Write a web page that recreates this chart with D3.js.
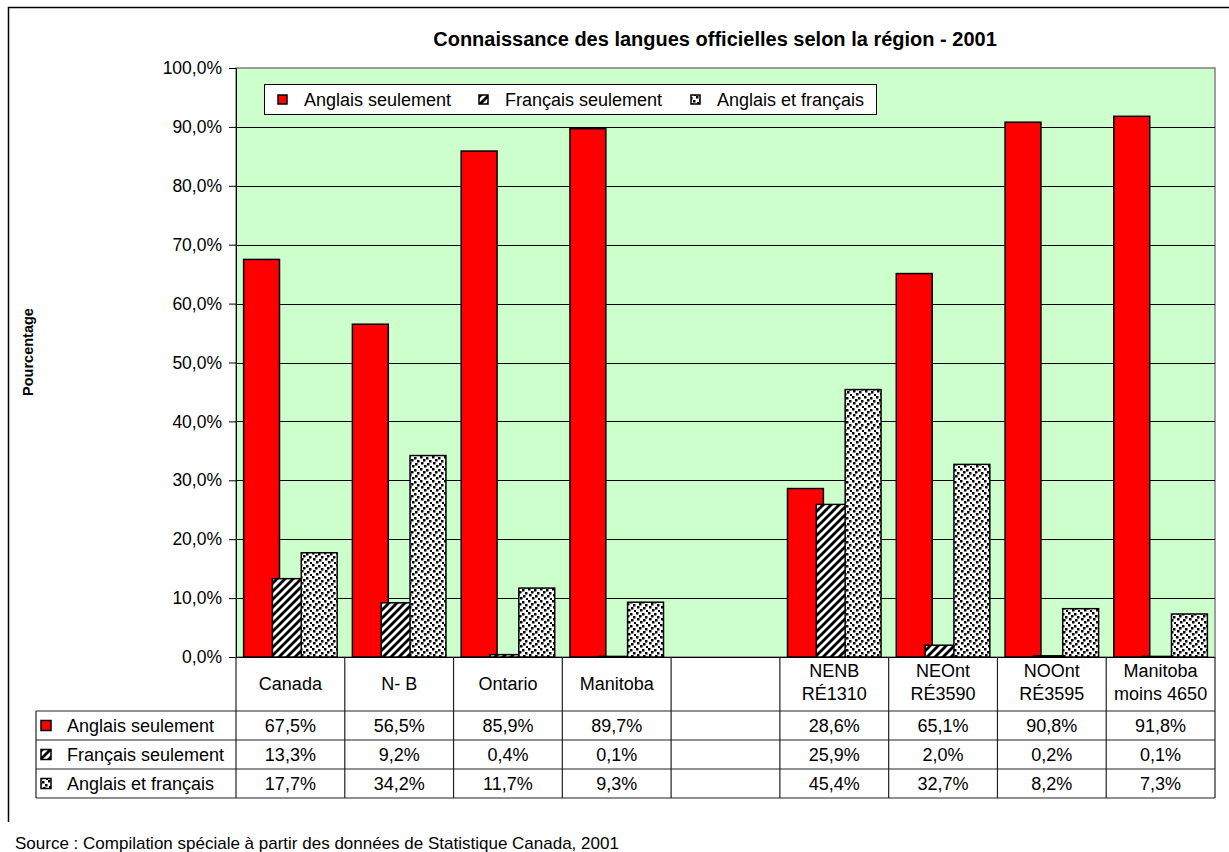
<!DOCTYPE html>
<html lang="fr">
<head>
<meta charset="utf-8">
<title>Connaissance des langues officielles selon la région - 2001</title>
<script src="https://cdn.jsdelivr.net/npm/d3@7"></script>
<style>
  body { margin: 0; background: #fff; }
  text { font-family: "Liberation Sans", Arial, sans-serif; }
</style>
</head>
<body>
<script>
// data
var categories = [["Canada"], ["N- B"], ["Ontario"], ["Manitoba"], [""],
  ["NENB", "RÉ1310"], ["NEOnt", "RÉ3590"], ["NOOnt", "RÉ3595"], ["Manitoba", "moins 4650"]];
var seriesNames = ["Anglais seulement", "Français seulement", "Anglais et français"];
var anglais  = [67.5, 56.5, 85.9, 89.7, null, 28.6, 65.1, 90.8, 91.8];
var francais = [13.3, 9.2, 0.4, 0.1, null, 25.9, 2.0, 0.2, 0.1];
var lesDeux  = [17.7, 34.2, 11.7, 9.3, null, 45.4, 32.7, 8.2, 7.3];
var yTicks = [0, 10, 20, 30, 40, 50, 60, 70, 80, 90, 100];

var series = [anglais, francais, lesDeux];
var fills = ["#ff0000", "url(#hatch)", "url(#confetti)"];

var W = 1229, H = 852;
var pLeft = 236, pRight = 1215, pTop = 68, pBottom = 657;
var rowY = [711, 740, 769, 798];

var svg = d3.select("body").append("svg")
  .attr("width", W).attr("height", H);

var defs = svg.append("defs");
var hatch = defs.append("pattern").attr("id", "hatch")
  .attr("patternUnits", "userSpaceOnUse").attr("width", 8).attr("height", 8);
hatch.append("rect").attr("width", 8).attr("height", 8).attr("fill", "#fff");
hatch.append("path").attr("d", "M-2,2 L2,-2 M0,8 L8,0 M6,10 L10,6")
  .attr("stroke", "#000").attr("stroke-width", 2.8);

// dotted "confetti" fill
var conf = defs.append("pattern").attr("id", "confetti")
  .attr("patternUnits", "userSpaceOnUse").attr("width", 12).attr("height", 12);
conf.append("rect").attr("width", 12).attr("height", 12).attr("fill", "#fff");
[[0, 0], [6, 1], [3, 3], [9, 4], [1, 6], [7, 7], [4, 9], [10, 10]].forEach(function(p) {
  conf.append("rect").attr("x", p[0]).attr("y", p[1]).attr("width", 2.5).attr("height", 2.5).attr("fill", "#000");
});

// outer frame (left and top edges visible)
svg.append("path").attr("d", "M8.5,822 L8.5,7.5 L1229,7.5")
  .attr("fill", "none").attr("stroke", "#000").attr("stroke-width", 1.5);

var x = d3.scaleBand().domain(d3.range(categories.length)).range([pLeft, pRight]).padding(0);
var y = d3.scaleLinear().domain([0, 100]).range([pBottom, pTop]);

// plot area
svg.append("rect").attr("x", pLeft).attr("y", pTop)
  .attr("width", pRight - pLeft).attr("height", pBottom - pTop)
  .attr("fill", "#ccffcc").attr("stroke", "#808080").attr("stroke-width", 1.5);

svg.append("g").selectAll("line").data(yTicks.slice(1, -1)).enter().append("line")
  .attr("x1", pLeft).attr("x2", pRight)
  .attr("y1", function(d) { return Math.round(y(d)) + 0.5; })
  .attr("y2", function(d) { return Math.round(y(d)) + 0.5; })
  .attr("stroke", "#000").attr("stroke-width", 1);

var yAxis = d3.axisLeft(y).tickValues(yTicks).tickSize(7).tickPadding(7)
  .tickFormat(function(d) { return d3.format(".1f")(d).replace(".", ",") + "%"; });
var ya = svg.append("g").attr("transform", "translate(" + pLeft + ",0)").call(yAxis);
ya.selectAll("text").attr("font-size", "17.5px").attr("fill", "#000")
  .style("font-family", "Liberation Sans, Arial, sans-serif");
ya.select(".domain").attr("stroke", "#000");

// bars
var bw = x.bandwidth() * 0.33, step = x.bandwidth() * 0.265;
var off = (x.bandwidth() - (bw + 2 * step)) / 2;
series.forEach(function(vals, s) {
  svg.append("g").selectAll("rect")
    .data(vals.map(function(v, i) { return {v: v, i: i}; }).filter(function(d) { return d.v != null; }))
    .enter().append("rect")
    .attr("x", function(d) { return x(d.i) + off + s * step; })
    .attr("y", function(d) { return y(d.v); })
    .attr("width", bw)
    .attr("height", function(d) { return y(0) - y(d.v); })
    .attr("fill", fills[s]).attr("stroke", "#000").attr("stroke-width", 1.5);
});

svg.append("line").attr("x1", pLeft - 7).attr("x2", pRight).attr("y1", pBottom + 0.5).attr("y2", pBottom + 0.5)
  .attr("stroke", "#000");

// data table
var tbl = svg.append("g").attr("stroke", "#222").attr("stroke-width", 1.2);
var tableLeft = 36;
rowY.forEach(function(yy) {
  tbl.append("line").attr("x1", tableLeft).attr("x2", pRight).attr("y1", yy).attr("y2", yy);
});
tbl.append("line").attr("x1", tableLeft).attr("x2", tableLeft).attr("y1", rowY[0]).attr("y2", rowY[3]);
d3.range(categories.length + 1).forEach(function(i) {
  var xx = i < categories.length ? x(i) : pRight;
  tbl.append("line").attr("x1", xx).attr("x2", xx).attr("y1", pBottom).attr("y2", rowY[3]);
});

// header labels
categories.forEach(function(lines, i) {
  var cx = x(i) + x.bandwidth() / 2;
  var t = svg.append("text").attr("text-anchor", "middle").attr("font-size", "18px").attr("x", cx);
  if (lines.length == 1) {
    t.attr("y", 690).text(lines[0]);
  } else {
    t.append("tspan").attr("x", cx).attr("y", 677).text(lines[0]);
    t.append("tspan").attr("x", cx).attr("y", 700).text(lines[1]);
  }
});

var fmt = function(v) { return v == null ? "" : d3.format(".1f")(v).replace(".", ",") + "%"; };
series.forEach(function(vals, s) {
  var cy = (rowY[s] + rowY[s + 1]) / 2;
  svg.append("rect").attr("x", 41).attr("y", cy - 5).attr("width", 10).attr("height", 10)
    .attr("fill", fills[s]).attr("stroke", "#000").attr("stroke-width", 1.5);
  svg.append("text").attr("x", 67).attr("y", cy + 6.5).attr("font-size", "18px").text(seriesNames[s]);
  svg.append("g").selectAll("text").data(vals).enter().append("text")
    .attr("x", function(d, i) { return x(i) + x.bandwidth() / 2; })
    .attr("y", cy + 6.5).attr("text-anchor", "middle").attr("font-size", "18px")
    .text(fmt);
});

// legend
var lg = svg.append("g");
lg.append("rect").attr("x", 264.5).attr("y", 84.5).attr("width", 612).attr("height", 30)
  .attr("fill", "#fff").attr("stroke", "#000").attr("stroke-width", 1);
var legX = [278, 479, 691];
seriesNames.forEach(function(n, s) {
  lg.append("rect").attr("x", legX[s]).attr("y", 95).attr("width", 9).attr("height", 9)
    .attr("fill", fills[s]).attr("stroke", "#000").attr("stroke-width", 1.5);
  lg.append("text").attr("x", legX[s] + 26).attr("y", 106).attr("font-size", "18px").text(n);
});

// titles
svg.append("text").attr("x", 715).attr("y", 46).attr("text-anchor", "middle")
  .attr("font-size", "20px").attr("font-weight", "bold")
  .text("Connaissance des langues officielles selon la région - 2001");
svg.append("text").attr("transform", "translate(33,352) rotate(-90)")
  .attr("text-anchor", "middle").attr("font-size", "14.5px").attr("font-weight", "bold")
  .text("Pourcentage");
svg.append("text").attr("x", 15).attr("y", 849).attr("font-size", "17px")
  .text("Source : Compilation spéciale à partir des données de Statistique Canada, 2001");
</script>
</body>
</html>
